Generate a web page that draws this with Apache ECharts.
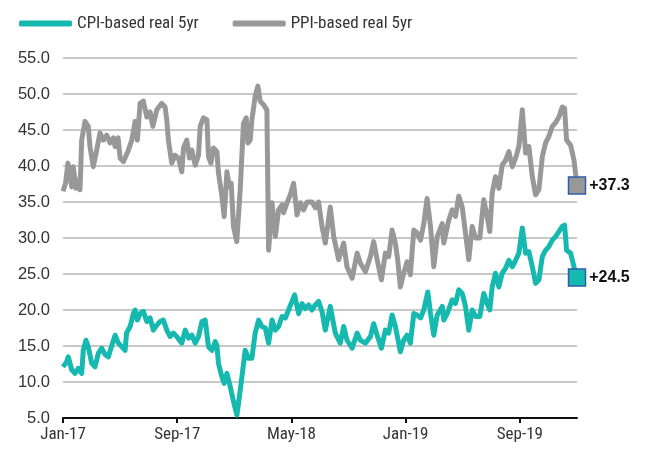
<!DOCTYPE html>
<html>
<head>
<meta charset="utf-8">
<script src="https://cdn.jsdelivr.net/npm/echarts@6/dist/echarts.min.js"></script>
<style>
  html, body { margin: 0; padding: 0; background: #fff; }
  #main { width: 645px; height: 450px; }
</style>
</head>
<body>
<div id="main"></div>
<script>
// months since Jan-17 (0 = Jan-17, 36 = Jan-20)
var tickMonths = [0, 8, 16, 24, 32];
var tickLabels = ['Jan-17', 'Sep-17', 'May-18', 'Jan-19', 'Sep-19'];

var ppiMonths = [0, 0.18, 0.35, 0.61, 0.72, 0.91, 1.05, 1.19, 1.31, 1.54, 1.77, 1.89, 2.12, 2.36, 2.59, 2.83,
  3.06, 3.30, 3.53, 3.65, 3.86, 4.00, 4.23, 4.35, 4.58, 4.82, 5.05, 5.21, 5.40, 5.63, 5.87, 6.10, 6.29, 6.57,
  6.92, 7.15, 7.27, 7.38, 7.62, 7.85, 8.09, 8.32, 8.44, 8.67, 8.86, 9.03, 9.26, 9.49, 9.61, 9.84, 10.08, 10.19,
  10.36, 10.54, 10.78, 10.89, 11.13, 11.29, 11.48, 11.66, 11.78, 11.94, 12.17, 12.41, 12.64, 12.83, 12.95, 13.11,
  13.23, 13.46, 13.65, 13.81, 14.05, 14.28, 14.40, 14.64, 14.87, 15.10, 15.34, 15.45, 15.69, 15.92, 16.15, 16.39,
  16.62, 16.85, 17.09, 17.44, 17.67, 17.90, 18.14, 18.37, 18.72, 18.96, 19.31, 19.66, 19.89, 20.25, 20.60, 20.83,
  21.18, 21.53, 21.76, 22.00, 22.30, 22.58, 22.81, 23.05, 23.28, 23.44, 23.63, 23.86, 24.10, 24.33, 24.57, 24.80,
  25.04, 25.27, 25.50, 25.74, 25.97, 26.21, 26.56, 26.67, 27.02, 27.26, 27.49, 27.72, 27.96, 28.19, 28.42, 28.66,
  28.89, 29.19, 29.47, 29.71, 29.89, 30.06, 30.29, 30.53, 30.76, 31.00, 31.23, 31.47, 31.70, 31.93, 32.17, 32.40,
  32.63, 32.87, 33.10, 33.33, 33.57, 33.80, 34.03, 34.27, 34.50, 34.73, 34.97, 35.13, 35.27, 35.55, 35.79, 36];
var ppiValues = [36.5, 37.6, 40.4, 37.1, 39.9, 36.9, 38.0, 36.7, 43.6, 46.2, 45.5, 42.7, 39.9, 42.2, 44.6, 43.6,
  44.3, 43.2, 43.9, 42.7, 43.9, 41.1, 40.6, 40.4, 42.2, 43.6, 46.2, 43.6, 48.7, 49.0, 46.8, 47.5, 45.5, 47.8,
  48.7, 48.2, 46.4, 43.6, 40.4, 41.5, 41.1, 39.2, 42.5, 43.6, 41.1, 42.2, 40.1, 41.5, 45.5, 46.7, 46.4, 41.3,
  40.4, 42.5, 42.0, 39.0, 35.8, 33.0, 39.2, 37.1, 37.6, 31.6, 29.5, 36.7, 45.9, 46.7, 43.2, 43.6,
  46.4, 49.7, 51.1, 49.0, 48.5, 47.8, 28.3, 34.9, 30.2, 33.9, 34.6, 33.5, 34.9, 36.0, 37.6, 33.2,
  34.9, 33.9, 35.0, 35.0, 34.2, 35.0, 31.6, 29.3, 34.3, 30.2, 27.0, 29.3, 26.0, 24.4, 27.9, 26.5,
  25.3, 27.4, 29.5, 27.0, 24.2, 27.9, 27.4, 31.1, 29.3, 27.0, 23.2, 25.1, 26.7, 24.9, 31.1, 30.7,
  29.7, 32.0, 35.5, 31.6, 26.0, 30.2, 32.0, 29.3, 32.5, 33.9, 33.0, 35.8, 34.3, 30.7, 27.0, 31.6,
  30.0, 30.0, 35.3, 33.0, 30.9, 36.2, 38.5, 36.9, 40.1, 40.8, 42.0, 39.9, 41.1, 42.7, 47.8, 41.8,
  42.7, 38.5, 36.0, 36.7, 41.3, 43.2, 44.1, 45.5, 46.0, 46.8, 48.2, 48.0, 43.6, 42.9, 40.8, 37.3];

var cpiMonths = [0, 0.26, 0.37, 0.61, 0.84, 1.07, 1.31, 1.42, 1.61, 1.77, 2.01, 2.24, 2.48, 2.71, 2.95, 3.18,
  3.42, 3.65, 3.88, 4.12, 4.35, 4.45, 4.70, 4.93, 5.05, 5.21, 5.40, 5.63, 5.87, 6.10, 6.33, 6.57, 6.80, 7.03,
  7.27, 7.50, 7.73, 7.97, 8.32, 8.56, 8.79, 9.03, 9.26, 9.49, 9.73, 9.96, 10.08, 10.19, 10.43, 10.66, 10.78,
  10.89, 11.13, 11.29, 11.48, 11.71, 11.94, 12.18, 12.29, 12.53, 12.76, 12.99, 13.23, 13.46, 13.70, 13.93,
  14.17, 14.40, 14.64, 14.87, 15.10, 15.34, 15.57, 15.80, 16.04, 16.22, 16.50, 16.74, 16.97, 17.20, 17.44,
  17.67, 17.90, 18.14, 18.37, 18.72, 19.07, 19.42, 19.66, 19.89, 20.25, 20.60, 20.83, 21.18, 21.53, 21.76,
  22.00, 22.30, 22.58, 22.81, 23.05, 23.28, 23.51, 23.63, 23.86, 24.10, 24.33, 24.57, 24.80, 25.04, 25.27,
  25.55, 25.74, 25.97, 26.21, 26.56, 26.67, 26.91, 27.26, 27.49, 27.72, 27.96, 28.19, 28.42, 28.66, 28.89,
  29.19, 29.47, 29.71, 29.89, 30.06, 30.29, 30.53, 30.76, 31.00, 31.23, 31.47, 31.70, 31.93, 32.17, 32.40,
  32.63, 32.87, 33.10, 33.33, 33.57, 33.80, 34.03, 34.27, 34.50, 34.73, 34.97, 35.13, 35.27, 35.55, 35.79, 36];
var cpiValues = [12.1, 12.8, 13.5, 11.7, 11.2, 11.9, 11.2, 14.4, 15.8, 14.9, 12.6, 12.1, 14.0, 14.7, 13.8, 13.5,
  15.1, 16.5, 15.4, 14.9, 14.4, 16.8, 17.7, 19.5, 20.0, 18.6, 19.5, 19.8, 18.4, 18.9, 17.2, 17.9, 18.4, 18.6,
  17.2, 16.3, 16.8, 16.3, 15.4, 17.2, 16.1, 16.5, 15.4, 16.3, 18.4, 18.6, 18.4, 14.9, 14.4, 15.6, 15.1,
  12.6, 10.7, 9.8, 11.2, 9.4, 7.3, 5.4, 7.0, 10.7, 14.4, 13.3, 13.3, 16.8, 18.6, 17.7,
  17.5, 15.4, 18.6, 17.2, 17.7, 19.1, 18.9, 20.0, 21.2, 22.1, 19.5, 20.9, 20.2, 20.7, 20.0,
  20.7, 21.2, 19.8, 17.2, 20.5, 16.8, 15.4, 17.7, 15.8, 14.7, 16.8, 15.8, 15.4, 16.3, 18.1,
  16.5, 14.7, 17.2, 16.8, 19.3, 17.7, 15.4, 14.2, 15.8, 16.5, 15.4, 19.5, 19.3, 18.9, 20.0,
  22.5, 19.5, 16.5, 19.3, 20.5, 18.6, 19.5, 21.4, 20.9, 22.8, 22.3, 20.5, 17.2, 20.0, 19.1,
  19.1, 22.3, 20.9, 20.0, 23.2, 25.1, 23.2, 25.1, 25.8, 26.9, 26.0, 26.9, 27.9, 31.4, 27.9,
  28.1, 26.0, 23.7, 24.2, 27.4, 28.3, 28.8, 29.7, 30.2, 30.9, 31.6, 31.8, 28.3, 27.9, 26.0, 24.5];

var narrowFont = '"Roboto Condensed", "Liberation Sans Narrow", Roboto, sans-serif';
var plainFont = '"Liberation Sans", Arial, sans-serif';
var cpiColor = '#15b9b0';
var ppiColor = '#989898';

function pairs(xs, ys) {
  return xs.map(function (x, i) { return [x, ys[i]]; });
}

// square marker + "+value" label on the last point
function endMark(xs, ys, color) {
  var last = ys.length - 1;
  return {
    symbol: 'rect',
    symbolSize: 17,
    itemStyle: { color: color, borderColor: '#2f5da6', borderWidth: 1.5 },
    label: {
      show: true,
      position: 'right',
      distance: 3,
      color: '#111',
      fontFamily: plainFont,
      fontWeight: 'bold',
      fontSize: 16,
      formatter: function (p) { return '+' + p.value.toFixed(1); }
    },
    data: [{ coord: [xs[last], ys[last]], value: ys[last] }],
    animation: false
  };
}

var myChart = echarts.init(document.getElementById('main'));

myChart.setOption({
  animation: false,
  legend: {
    left: 14,
    top: 10,
    itemWidth: 53,
    itemHeight: 6,
    itemGap: 34,
    icon: 'roundRect',
    textStyle: { fontFamily: narrowFont, fontSize: 17, color: '#333' },
    data: ['CPI-based real 5yr', 'PPI-based real 5yr']
  },
  grid: { left: 63, right: 68, top: 58, bottom: 32 },
  xAxis: {
    type: 'value',
    min: 0,
    max: 36,
    splitLine: { show: false },
    axisLine: { lineStyle: { color: '#111', width: 2 } },
    axisTick: { show: true, customValues: tickMonths, length: 5, lineStyle: { color: '#111', width: 2 } },
    axisLabel: {
      customValues: tickMonths,
      fontFamily: narrowFont,
      fontSize: 17,
      color: '#333',
      margin: 8,
      formatter: function (v) {
        var i = tickMonths.indexOf(v);
        return i >= 0 ? tickLabels[i] : '';
      }
    }
  },
  yAxis: {
    type: 'value',
    min: 5,
    max: 55,
    interval: 5,
    axisLine: { show: false },
    axisTick: { show: false },
    splitLine: { lineStyle: { color: '#c6c9c8', width: 2 } },
    axisLabel: {
      fontFamily: plainFont,
      fontSize: 16.5,
      color: '#333',
      margin: 13,
      formatter: function (v) { return v.toFixed(1); }
    }
  },
  series: [
    {
      name: 'PPI-based real 5yr',
      type: 'line',
      data: pairs(ppiMonths, ppiValues),
      showSymbol: false,
      color: ppiColor,
      lineStyle: { width: 5, color: ppiColor, join: 'round' },
      markPoint: endMark(ppiMonths, ppiValues, ppiColor),
      z: 2
    },
    {
      name: 'CPI-based real 5yr',
      type: 'line',
      data: pairs(cpiMonths, cpiValues),
      showSymbol: false,
      color: cpiColor,
      lineStyle: { width: 5, color: cpiColor, join: 'round' },
      markPoint: endMark(cpiMonths, cpiValues, cpiColor),
      z: 3
    }
  ]
});
</script>
</body>
</html>
